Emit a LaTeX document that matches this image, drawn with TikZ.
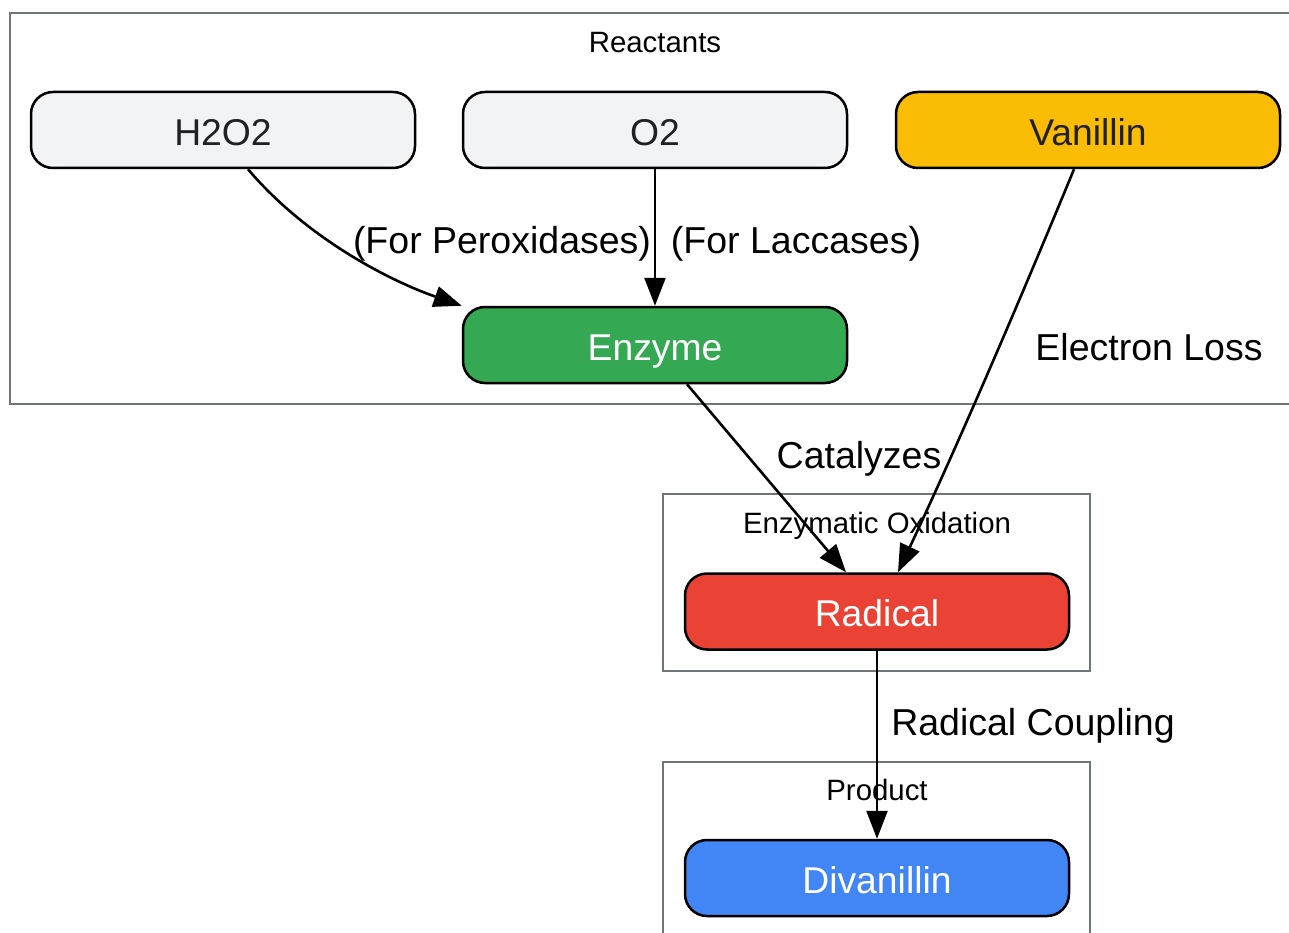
\documentclass[tikz,border=0pt]{standalone}
\usepackage{fontspec}
\setmainfont{Liberation Sans}
\usetikzlibrary{arrows.meta}
\definecolor{lightfill}{HTML}{F1F3F4}
\definecolor{darktext}{HTML}{202124}
\definecolor{vanfill}{HTML}{FBBC05}
\definecolor{enzfill}{HTML}{34A853}
\definecolor{radfill}{HTML}{EA4335}
\definecolor{divfill}{HTML}{4285F4}
\definecolor{clustergray}{HTML}{70757A}
\tikzset{
  nodebox/.style={draw=black, line width=2.5pt, rounded corners=22pt, minimum width=384pt, minimum height=76pt, inner sep=0pt, font=\fontsize{37.3}{40}\selectfont, text height=30.5pt, text depth=0pt},
  cluster/.style={draw=clustergray, line width=2.4pt},
  clustertitle/.style={font=\fontsize{29.4}{32}\selectfont, text=black, inner sep=0pt, text height=21pt, text depth=0pt},
  edgelabel/.style={font=\fontsize{37.5}{40}\selectfont, text=black, inner sep=0pt, text height=26.8pt, text depth=0pt},
  flow/.style={draw=black, line width=2.6pt, -{Triangle[length=28pt,width=21pt]}}
}
\begin{document}
\begin{tikzpicture}[x=1pt,y=-1pt]
\useasboundingbox (0,0) rectangle (1289,933);
\clip (0,0) rectangle (1289,933);
% clusters
\draw[cluster] (10,13) rectangle (1300,404);
\node[clustertitle] (reactantsT) at (655,42) {Reactants};
\draw[cluster] (663,494) rectangle (1090,671);
\node[clustertitle] (oxidT) at (877,523) {Enzymatic Oxidation};
\draw[cluster] (663,762) rectangle (1090,945);
\node[clustertitle] (productT) at (877,790) {Product};
% nodes
\node[nodebox, fill=lightfill, text=darktext] (h2o2) at (223,130) {H2O2};
\node[nodebox, fill=lightfill, text=darktext] (o2) at (655,130) {O2};
\node[nodebox, fill=vanfill, text=darktext] (vanillin) at (1088,130) {Vanillin};
\node[nodebox, fill=enzfill, text=white] (enzyme) at (655,345) {Enzyme};
\node[nodebox, fill=radfill, text=white] (radical) at (877,611.5) {Radical};
\node[nodebox, fill=divfill, text=white] (divanillin) at (877,878) {Divanillin};
% edges
\draw[flow] ([xshift=25pt]h2o2.south) .. controls (308,240) and (393,282) .. (enzyme.north west);
\draw[flow] (o2.south) -- (enzyme.north);
\draw[flow] ([xshift=32pt]enzyme.south) -- ([xshift=-31pt]radical.north);
\draw[flow] ([xshift=-14pt]vanillin.south) .. controls (1020,300) and (960,440) .. ([xshift=21pt]radical.north);
\draw[flow] (radical.south) -- (divanillin.north);
% edge labels
\node[edgelabel] (lperox) at (502,240) {(For Peroxidases)};
\node[edgelabel] (llacc) at (796,240) {(For Laccases)};
\node[edgelabel] (lcat) at (859,455) {Catalyzes};
\node[edgelabel] (lelec) at (1149,347) {Electron Loss};
\node[edgelabel] (lcoup) at (1033,722) {Radical Coupling};
\end{tikzpicture}
\end{document}
